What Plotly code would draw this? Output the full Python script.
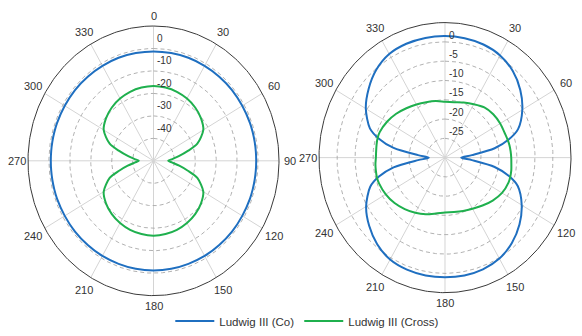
import numpy as np
import plotly.graph_objects as go

# Observation angles in degrees, clockwise from boresight (top)
angles = [0, 10, 20, 30, 40, 50, 60, 70, 75, 80, 85, 90, 95, 100, 105, 110,
          120, 130, 140, 150, 160, 170, 180, 190, 200, 210, 220, 230, 240,
          250, 255, 260, 265, 270, 275, 280, 285, 290, 300, 310, 320, 330,
          340, 350, 360]

# Left panel, normalised gain (dB)
left_co = [-11.3, -11.3, -11.2, -11.2, -11.1, -11.0, -11.0, -10.9, -10.9, -10.9,
           -10.9, -10.9, -10.9, -10.9, -10.9, -10.9, -11.0, -11.0, -11.1, -11.1,
           -11.2, -11.2, -11.2, -11.2, -11.2, -11.1, -11.1, -11.0, -11.0, -10.9,
           -10.9, -10.9, -10.9, -10.9, -10.9, -10.9, -10.9, -10.9, -11.0, -11.0,
           -11.1, -11.2, -11.2, -11.3, -11.3]
left_cross = [-26.7, -26.9, -27.3, -28.0, -29.0, -30.4, -32.5, -37.7, -43.0, -47.5,
              -51.0, -53.0, -51.0, -47.5, -43.0, -37.7, -32.5, -30.4, -29.0, -28.0,
              -27.3, -26.9, -26.7, -26.9, -27.3, -28.0, -29.0, -30.4, -32.5, -37.7,
              -43.0, -47.5, -51.0, -53.0, -51.0, -47.5, -43.0, -37.7, -32.5, -30.4,
              -29.0, -28.0, -27.3, -26.9, -26.7]

# Right panel, normalised gain (dB)
right_co = [-3.5, -3.6, -3.8, -4.4, -5.7, -7.7, -10.2, -13.4, -16.6, -21.0,
            -27.5, -30.5, -27.5, -21.0, -16.6, -13.5, -10.4, -8.0, -6.1, -4.8,
            -4.2, -4.0, -4.0, -4.0, -4.1, -4.5, -5.7, -7.5, -9.7, -12.9,
            -16.0, -20.5, -27.5, -30.5, -27.5, -20.5, -16.0, -12.8, -9.6, -7.3,
            -5.3, -4.0, -3.6, -3.5, -3.5]
right_cross = [-20.5, -20.4, -19.8, -19.0, -18.0, -17.5, -17.3, -17.2, -17.0, -16.8,
               -16.7, -16.6, -16.5, -16.3, -16.2, -16.2, -16.7, -17.7, -18.8, -19.7,
               -20.3, -20.7, -20.8, -20.3, -19.4, -18.5, -17.6, -16.7, -16.0, -15.5,
               -15.4, -15.5, -15.6, -15.8, -15.8, -15.7, -15.6, -15.7, -16.4, -17.3,
               -18.3, -19.1, -19.7, -20.1, -20.5]

angle_ticks = [0, 30, 60, 90, 120, 150, 180, 210, 240, 270, 300, 330]
left_rings = [-10, -20, -30, -40, -50]
left_ring_labels = [0, -10, -20, -30, -40]
left_rmin = -60
right_rings = [-5, -10, -15, -20, -25, -30]
right_ring_labels = [0, -5, -10, -15, -20, -25]
right_rmin = -35

series_names = ["Ludwig III (Co)", "Ludwig III (Cross)"]
colors = ["#1f6fc0", "#1fb04e"]

W, H = 582, 336
FONT = "Liberation Sans, Arial, sans-serif"

# panel geometry: centre (px), horizontal / vertical radius of the outer ring (px)
panels = [
    dict(cx=153.5, cy=163.75, rh=125.5, rv=137.25, xr=[-1.2, 1.115], yr=[-1.17, 1.17]),
    dict(cx=445.0, cy=160.5, rh=126.0, rv=137.5, xr=[-1.2, 1.08], yr=[-1.15, 1.15]),
]


def to_xy(theta_deg, db, rmin):
    th = np.radians(np.asarray(theta_deg, dtype=float))
    r = (np.asarray(db, dtype=float) - rmin) / (0.0 - rmin)
    return r * np.sin(th), r * np.cos(th)


fig = go.Figure()
layout_axes = {}
annotations = []
circle_t = np.linspace(0, 360, 361)

panel_data = [
    (left_co, left_cross, left_rings, left_ring_labels, left_rmin, True),
    (right_co, right_cross, right_rings, right_ring_labels, right_rmin, False),
]

for i, (geo, (co, cross, rings, ring_labels, rmin, show_zero)) in enumerate(zip(panels, panel_data)):
    xa = "x" if i == 0 else f"x{i + 1}"
    ya = "y" if i == 0 else f"y{i + 1}"
    cx, cy, rh, rv = geo["cx"], geo["cy"], geo["rh"], geo["rv"]
    x0 = (cx + geo["xr"][0] * rh) / W
    x1 = (cx + geo["xr"][1] * rh) / W
    y0 = 1 - (cy - geo["yr"][0] * rv) / H
    y1 = 1 - (cy - geo["yr"][1] * rv) / H
    suffix = "" if i == 0 else str(i + 1)
    layout_axes["xaxis" + suffix] = dict(range=geo["xr"], domain=[x0, x1], visible=False,
                                         fixedrange=True)
    layout_axes["yaxis" + suffix] = dict(range=geo["yr"], domain=[y0, y1], visible=False,
                                         fixedrange=True)

    # angular spokes
    for a in angle_ticks[:6]:
        sx, sy = to_xy([a, a + 180], [0, 0], rmin)
        fig.add_trace(go.Scatter(x=sx, y=sy, mode="lines", xaxis=xa, yaxis=ya,
                                 line=dict(color="#d4d4d4", width=1),
                                 hoverinfo="skip", showlegend=False))
    # dashed magnitude rings
    for ring in rings:
        gx, gy = to_xy(circle_t, np.full_like(circle_t, ring), rmin)
        fig.add_trace(go.Scatter(x=gx, y=gy, mode="lines", xaxis=xa, yaxis=ya,
                                 line=dict(color="#a8a8a8", width=0.9, dash="4px,3px"),
                                 hoverinfo="skip", showlegend=False))
    # outer ring
    ox, oy = to_xy(circle_t, np.zeros_like(circle_t), rmin)
    fig.add_trace(go.Scatter(x=ox, y=oy, mode="lines", xaxis=xa, yaxis=ya,
                             line=dict(color="#3a3a3a", width=1),
                             hoverinfo="skip", showlegend=False))

    # pattern cuts
    for name, vals, col in zip(series_names, [co, cross], colors):
        px_, py_ = to_xy(angles, vals, rmin)
        fig.add_trace(go.Scatter(x=px_, y=py_, mode="lines", name=name,
                                 xaxis=xa, yaxis=ya,
                                 line=dict(color=col, width=2, shape="spline",
                                           smoothing=0.8),
                                 showlegend=(i == 0)))

    # angle labels
    for a in angle_ticks:
        if a == 0 and not show_zero:
            continue
        s = np.radians(a)
        f = 1.075 + 0.03 * abs(np.sin(2 * s)) + 0.01 * abs(np.sin(s))
        annotations.append(dict(x=f * np.sin(s), y=f * np.cos(s), xref=xa, yref=ya,
                                text=str(a), showarrow=False,
                                font=dict(family=FONT, size=11, color="#333333"),
                                xanchor="center", yanchor="middle"))
    # magnitude labels along the boresight spoke
    for lab in ring_labels:
        r = (lab - rmin) / (0.0 - rmin)
        annotations.append(dict(x=0.015, y=r, xref=xa, yref=ya, text=str(lab),
                                showarrow=False, yshift=-5,
                                font=dict(family=FONT, size=10, color="#333333"),
                                xanchor="left", yanchor="top"))

fig.update_layout(
    width=W, height=H, autosize=False,
    margin=dict(l=0, r=0, t=0, b=0),
    paper_bgcolor="white", plot_bgcolor="white",
    annotations=annotations,
    legend=dict(orientation="h", x=0.528, y=0.027, xanchor="center", yanchor="middle",
                itemwidth=39,
                font=dict(family=FONT, size=11.5, color="#333333"),
                bgcolor="rgba(0,0,0,0)"),
    **layout_axes,
)

fig.write_html("out.html")
